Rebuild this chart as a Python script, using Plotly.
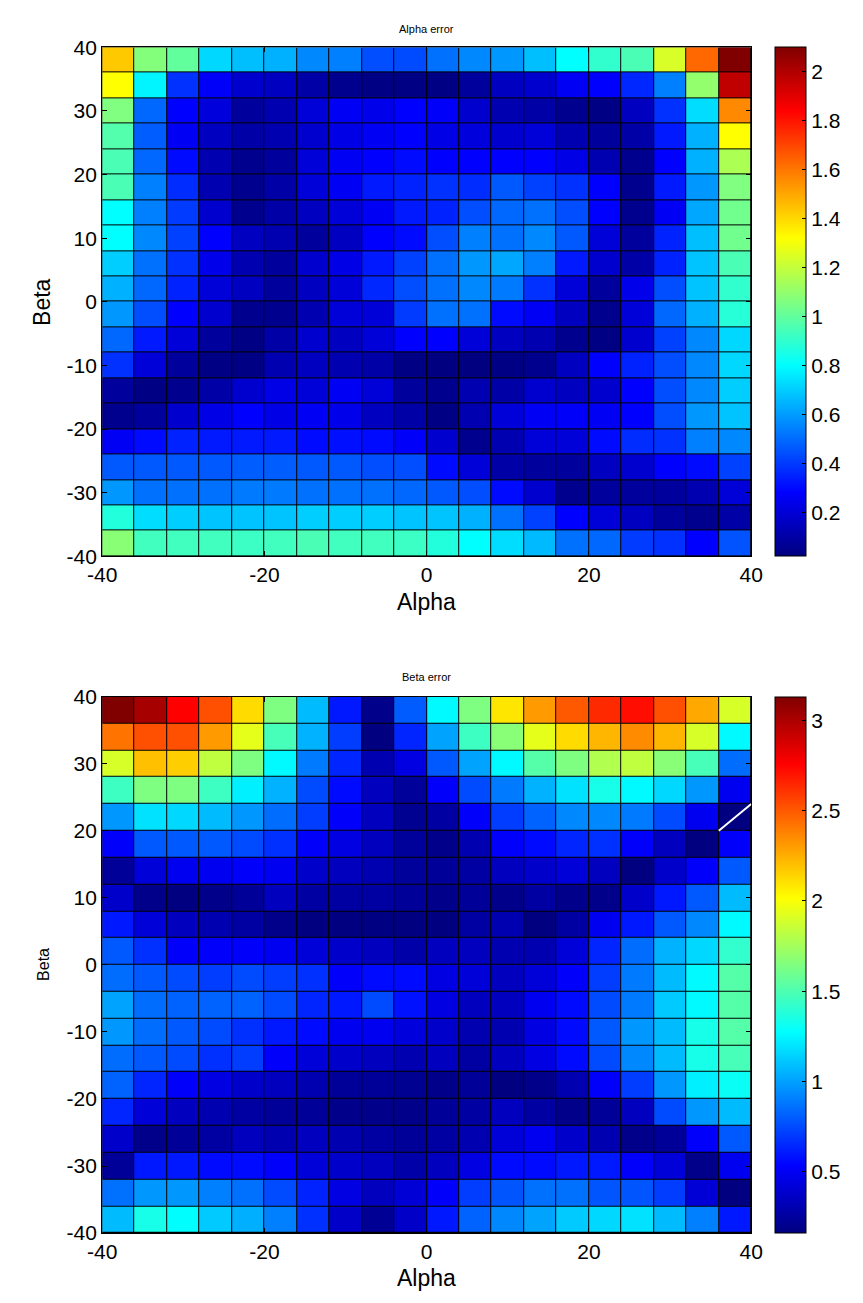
import plotly.graph_objects as go

# Grid cell edges (pcolor-style): 20 x 20 cells from -40 to 40
alpha_edges = list(range(-40, 41, 4))
beta_edges = list(range(-40, 41, 4))

# Alpha error, rows listed from Beta = 40 (top) down to Beta = -40 (bottom)
alpha_error = [
    [1.43, 1.07, 1.00, 0.72, 0.67, 0.64, 0.56, 0.54, 0.44, 0.43, 0.51, 0.56, 0.59, 0.67, 0.80, 0.90, 0.95, 1.24, 1.63, 2.10],
    [1.32, 0.78, 0.38, 0.27, 0.18, 0.15, 0.10, 0.05, 0.03, 0.03, 0.03, 0.08, 0.15, 0.18, 0.26, 0.28, 0.36, 0.54, 1.10, 1.97],
    [1.06, 0.49, 0.28, 0.21, 0.08, 0.12, 0.20, 0.26, 0.24, 0.28, 0.27, 0.18, 0.12, 0.10, 0.05, 0.03, 0.15, 0.38, 0.73, 1.56],
    [0.97, 0.47, 0.26, 0.15, 0.10, 0.12, 0.18, 0.23, 0.26, 0.28, 0.23, 0.21, 0.18, 0.20, 0.12, 0.08, 0.10, 0.33, 0.64, 1.32],
    [0.95, 0.49, 0.30, 0.12, 0.05, 0.08, 0.20, 0.26, 0.28, 0.30, 0.28, 0.28, 0.28, 0.28, 0.23, 0.12, 0.05, 0.28, 0.64, 1.15],
    [0.95, 0.54, 0.37, 0.12, 0.05, 0.10, 0.20, 0.26, 0.33, 0.35, 0.38, 0.37, 0.46, 0.41, 0.38, 0.28, 0.05, 0.33, 0.59, 1.06],
    [0.80, 0.54, 0.40, 0.18, 0.05, 0.10, 0.15, 0.20, 0.26, 0.33, 0.35, 0.44, 0.49, 0.51, 0.44, 0.28, 0.05, 0.26, 0.62, 1.03],
    [0.80, 0.56, 0.41, 0.28, 0.15, 0.12, 0.08, 0.15, 0.28, 0.30, 0.44, 0.54, 0.51, 0.56, 0.46, 0.20, 0.08, 0.35, 0.67, 1.03],
    [0.70, 0.51, 0.38, 0.24, 0.12, 0.08, 0.18, 0.23, 0.33, 0.41, 0.51, 0.59, 0.62, 0.54, 0.33, 0.18, 0.10, 0.35, 0.68, 0.95],
    [0.64, 0.49, 0.35, 0.20, 0.15, 0.08, 0.15, 0.20, 0.36, 0.44, 0.51, 0.56, 0.53, 0.38, 0.20, 0.08, 0.24, 0.44, 0.68, 0.90],
    [0.59, 0.44, 0.28, 0.18, 0.05, 0.05, 0.12, 0.20, 0.20, 0.40, 0.51, 0.51, 0.30, 0.26, 0.15, 0.05, 0.20, 0.49, 0.64, 0.88],
    [0.49, 0.33, 0.20, 0.08, 0.03, 0.10, 0.18, 0.15, 0.20, 0.28, 0.28, 0.20, 0.15, 0.12, 0.05, 0.03, 0.18, 0.41, 0.56, 0.72],
    [0.38, 0.20, 0.08, 0.03, 0.03, 0.12, 0.15, 0.12, 0.10, 0.03, 0.02, 0.02, 0.03, 0.05, 0.15, 0.28, 0.35, 0.44, 0.56, 0.72],
    [0.08, 0.03, 0.05, 0.10, 0.18, 0.23, 0.20, 0.26, 0.20, 0.08, 0.05, 0.12, 0.10, 0.18, 0.15, 0.18, 0.28, 0.44, 0.56, 0.70],
    [0.05, 0.08, 0.18, 0.23, 0.28, 0.23, 0.26, 0.24, 0.15, 0.10, 0.03, 0.12, 0.20, 0.26, 0.27, 0.26, 0.28, 0.44, 0.59, 0.68],
    [0.26, 0.30, 0.35, 0.33, 0.33, 0.33, 0.30, 0.31, 0.30, 0.27, 0.18, 0.05, 0.12, 0.20, 0.20, 0.30, 0.37, 0.38, 0.54, 0.56],
    [0.46, 0.46, 0.46, 0.46, 0.47, 0.47, 0.46, 0.46, 0.44, 0.44, 0.30, 0.20, 0.10, 0.08, 0.08, 0.15, 0.18, 0.28, 0.30, 0.41],
    [0.59, 0.51, 0.51, 0.51, 0.53, 0.53, 0.51, 0.51, 0.51, 0.49, 0.46, 0.44, 0.30, 0.18, 0.05, 0.08, 0.08, 0.08, 0.12, 0.20],
    [0.87, 0.73, 0.70, 0.68, 0.68, 0.68, 0.70, 0.70, 0.70, 0.68, 0.68, 0.64, 0.51, 0.41, 0.28, 0.20, 0.15, 0.08, 0.05, 0.10],
    [1.08, 0.93, 0.93, 0.93, 0.92, 0.93, 0.95, 0.93, 0.93, 0.92, 0.87, 0.80, 0.73, 0.66, 0.51, 0.49, 0.40, 0.38, 0.28, 0.45],
]

# Beta error, rows listed from Beta = 40 (top) down to Beta = -40 (bottom)
beta_error = [
    [3.13, 3.02, 2.76, 2.53, 2.12, 1.64, 1.08, 0.60, 0.19, 0.80, 1.26, 1.64, 2.09, 2.31, 2.50, 2.64, 2.72, 2.53, 2.27, 1.90],
    [2.42, 2.53, 2.53, 2.31, 1.94, 1.48, 1.05, 0.71, 0.16, 0.64, 1.01, 1.45, 1.67, 1.94, 2.12, 2.23, 2.35, 2.23, 1.90, 1.26],
    [1.90, 2.20, 2.16, 1.83, 1.64, 1.26, 0.89, 0.64, 0.30, 0.45, 0.79, 1.01, 1.26, 1.52, 1.64, 1.79, 1.83, 1.67, 1.48, 0.85],
    [1.45, 1.64, 1.64, 1.45, 1.23, 1.05, 0.75, 0.56, 0.34, 0.24, 0.52, 0.75, 0.89, 1.05, 1.19, 1.34, 1.26, 1.16, 0.97, 0.49],
    [0.97, 1.19, 1.16, 1.08, 0.97, 0.85, 0.71, 0.52, 0.34, 0.21, 0.26, 0.52, 0.71, 0.82, 0.93, 0.93, 0.89, 0.75, 0.49, 0.16],
    [0.52, 0.79, 0.79, 0.79, 0.75, 0.67, 0.52, 0.45, 0.34, 0.24, 0.19, 0.30, 0.52, 0.56, 0.64, 0.67, 0.52, 0.34, 0.16, 0.52],
    [0.23, 0.42, 0.49, 0.49, 0.52, 0.49, 0.38, 0.34, 0.30, 0.24, 0.23, 0.26, 0.34, 0.38, 0.42, 0.34, 0.16, 0.38, 0.52, 0.79],
    [0.38, 0.19, 0.16, 0.19, 0.23, 0.34, 0.26, 0.26, 0.26, 0.23, 0.19, 0.23, 0.19, 0.26, 0.19, 0.19, 0.38, 0.60, 0.79, 1.08],
    [0.60, 0.42, 0.34, 0.30, 0.26, 0.19, 0.16, 0.16, 0.17, 0.16, 0.16, 0.26, 0.30, 0.16, 0.26, 0.49, 0.60, 0.79, 0.93, 1.26],
    [0.79, 0.67, 0.52, 0.52, 0.52, 0.49, 0.42, 0.38, 0.34, 0.28, 0.34, 0.34, 0.30, 0.30, 0.42, 0.64, 0.85, 1.05, 1.16, 1.42],
    [0.85, 0.79, 0.75, 0.71, 0.75, 0.71, 0.67, 0.52, 0.56, 0.56, 0.45, 0.42, 0.34, 0.42, 0.52, 0.71, 0.89, 1.08, 1.26, 1.52],
    [1.01, 0.85, 0.82, 0.82, 0.82, 0.75, 0.64, 0.60, 0.75, 0.58, 0.45, 0.34, 0.34, 0.49, 0.56, 0.75, 0.89, 1.12, 1.26, 1.52],
    [0.97, 0.85, 0.79, 0.75, 0.67, 0.60, 0.56, 0.49, 0.49, 0.43, 0.38, 0.30, 0.30, 0.45, 0.56, 0.79, 0.97, 1.08, 1.34, 1.52],
    [0.85, 0.79, 0.75, 0.67, 0.71, 0.52, 0.42, 0.38, 0.34, 0.30, 0.34, 0.26, 0.34, 0.45, 0.56, 0.75, 0.93, 1.08, 1.34, 1.48],
    [0.82, 0.64, 0.52, 0.45, 0.38, 0.34, 0.30, 0.23, 0.23, 0.21, 0.19, 0.23, 0.16, 0.19, 0.30, 0.52, 0.71, 0.97, 1.23, 1.30],
    [0.64, 0.42, 0.34, 0.30, 0.26, 0.23, 0.23, 0.19, 0.19, 0.19, 0.23, 0.26, 0.34, 0.26, 0.19, 0.23, 0.34, 0.75, 0.97, 1.08],
    [0.38, 0.19, 0.23, 0.26, 0.34, 0.30, 0.34, 0.30, 0.26, 0.23, 0.26, 0.30, 0.42, 0.49, 0.38, 0.30, 0.19, 0.23, 0.52, 0.79],
    [0.23, 0.60, 0.60, 0.56, 0.56, 0.52, 0.42, 0.38, 0.34, 0.28, 0.34, 0.45, 0.56, 0.56, 0.60, 0.60, 0.52, 0.42, 0.19, 0.49],
    [0.86, 0.97, 0.97, 0.90, 0.86, 0.75, 0.63, 0.45, 0.34, 0.41, 0.52, 0.71, 0.78, 0.86, 0.86, 0.78, 0.78, 0.71, 0.41, 0.16],
    [1.08, 1.34, 1.27, 1.12, 1.04, 0.90, 0.67, 0.37, 0.22, 0.37, 0.60, 0.82, 0.93, 1.01, 1.12, 1.16, 1.19, 1.08, 0.90, 0.60],
]

alpha_cbar_ticks = [0.2, 0.4, 0.6, 0.8, 1.0, 1.2, 1.4, 1.6, 1.8, 2.0]
alpha_cbar_text = ["0.2", "0.4", "0.6", "0.8", "1", "1.2", "1.4", "1.6", "1.8", "2"]
beta_cbar_ticks = [0.5, 1.0, 1.5, 2.0, 2.5, 3.0]
beta_cbar_text = ["0.5", "1", "1.5", "2", "2.5", "3"]
x_ticks = [-40, -20, 0, 20, 40]
x_tick_text = ["-40", "-20", "0", "20", "40"]
y_ticks = [-40, -30, -20, -10, 0, 10, 20, 30, 40]
y_tick_text = ["-40", "-30", "-20", "-10", "0", "10", "20", "30", "40"]

# MATLAB-style jet colormap
jet = [
    [0.0, "rgb(0,0,128)"],
    [0.125, "rgb(0,0,255)"],
    [0.375, "rgb(0,255,255)"],
    [0.625, "rgb(255,255,0)"],
    [0.875, "rgb(255,0,0)"],
    [1.0, "rgb(128,0,0)"],
]

W, H = 863, 1303
FONT = "Liberation Sans, Arial, Helvetica, sans-serif"


def px_x(p):
    return p / W


def px_y(p):
    return (H - p) / H


# panel pixel boxes (left, right, top, bottom)
top_box = (90, 760, 36, 554)
bot_box = (90, 760, 697, 1243)


def cbar(box, tickvals, ticktext):
    return dict(
        x=px_x(785), xanchor="left", xref="paper",
        y=px_y(box[3]), yanchor="bottom",
        len=(box[3] - box[2]) / H, lenmode="fraction",
        thickness=31, thicknessmode="pixels",
        outlinecolor="black", outlinewidth=1,
        tickvals=tickvals, ticktext=ticktext,
        ticks="inside", ticklen=4, tickcolor="black",
        tickfont=dict(family=FONT, size=21, color="black"),
        xpad=0, ypad=0,
    )


fig = go.Figure()

fig.add_trace(go.Heatmap(
    x=alpha_edges, y=beta_edges, z=alpha_error[::-1],
    colorscale=jet, zsmooth=False, xgap=1, ygap=1,
    colorbar=cbar(top_box, alpha_cbar_ticks, alpha_cbar_text),
    xaxis="x", yaxis="y",
))

fig.add_trace(go.Heatmap(
    x=alpha_edges, y=beta_edges, z=beta_error[::-1],
    colorscale=jet, zsmooth=False, xgap=1, ygap=1,
    colorbar=cbar(bot_box, beta_cbar_ticks, beta_cbar_text),
    xaxis="x2", yaxis="y2",
))

axis_common = dict(
    showgrid=False, zeroline=False,
    showline=True, linecolor="black", linewidth=1, mirror="ticks",
    ticks="inside", ticklen=5, tickcolor="black",
    tickfont=dict(family=FONT, size=21, color="black"),
)

fig.update_layout(
    width=W, height=H,
    margin=dict(l=0, r=0, t=0, b=0),
    paper_bgcolor="white",
    plot_bgcolor="black",
    showlegend=False,
    xaxis=dict(domain=[px_x(top_box[0]), px_x(top_box[1])], range=[-40, 40],
               tickvals=x_ticks, ticktext=x_tick_text, anchor="y", **axis_common),
    yaxis=dict(domain=[px_y(top_box[3]), px_y(top_box[2])], range=[-40, 40],
               tickvals=y_ticks, ticktext=y_tick_text, anchor="x", **axis_common),
    xaxis2=dict(domain=[px_x(bot_box[0]), px_x(bot_box[1])], range=[-40, 40],
                tickvals=x_ticks, ticktext=x_tick_text, anchor="y2", **axis_common),
    yaxis2=dict(domain=[px_y(bot_box[3]), px_y(bot_box[2])], range=[-40, 40],
                tickvals=y_ticks, ticktext=y_tick_text, anchor="x2", **axis_common),
)

cx = px_x((top_box[0] + top_box[1]) / 2)
annotations = [
    dict(text="Alpha error", x=cx, y=px_y(17), font=dict(size=11)),
    dict(text="Alpha", x=cx, y=px_y(601), font=dict(size=23)),
    dict(text="Beta", x=px_x(28), y=px_y((top_box[2] + top_box[3]) / 2),
         font=dict(size=23), textangle=-90),
    dict(text="Beta error", x=cx, y=px_y(677), font=dict(size=11)),
    dict(text="Alpha", x=cx, y=px_y(1289), font=dict(size=23)),
    dict(text="Beta", x=px_x(30), y=px_y((bot_box[2] + bot_box[3]) / 2),
         font=dict(size=16), textangle=-90),
]
for a in annotations:
    a.update(xref="paper", yref="paper", showarrow=False,
             xanchor="center", yanchor="middle")
    a["font"].update(family=FONT, color="black")
fig.update_layout(annotations=annotations)

# thin white stroke across one cell of the lower panel
fig.add_shape(type="line", xref="x2", yref="y2", x0=36, y0=20, x1=40, y1=24,
              line=dict(color="white", width=2))

fig.write_html("out.html")
